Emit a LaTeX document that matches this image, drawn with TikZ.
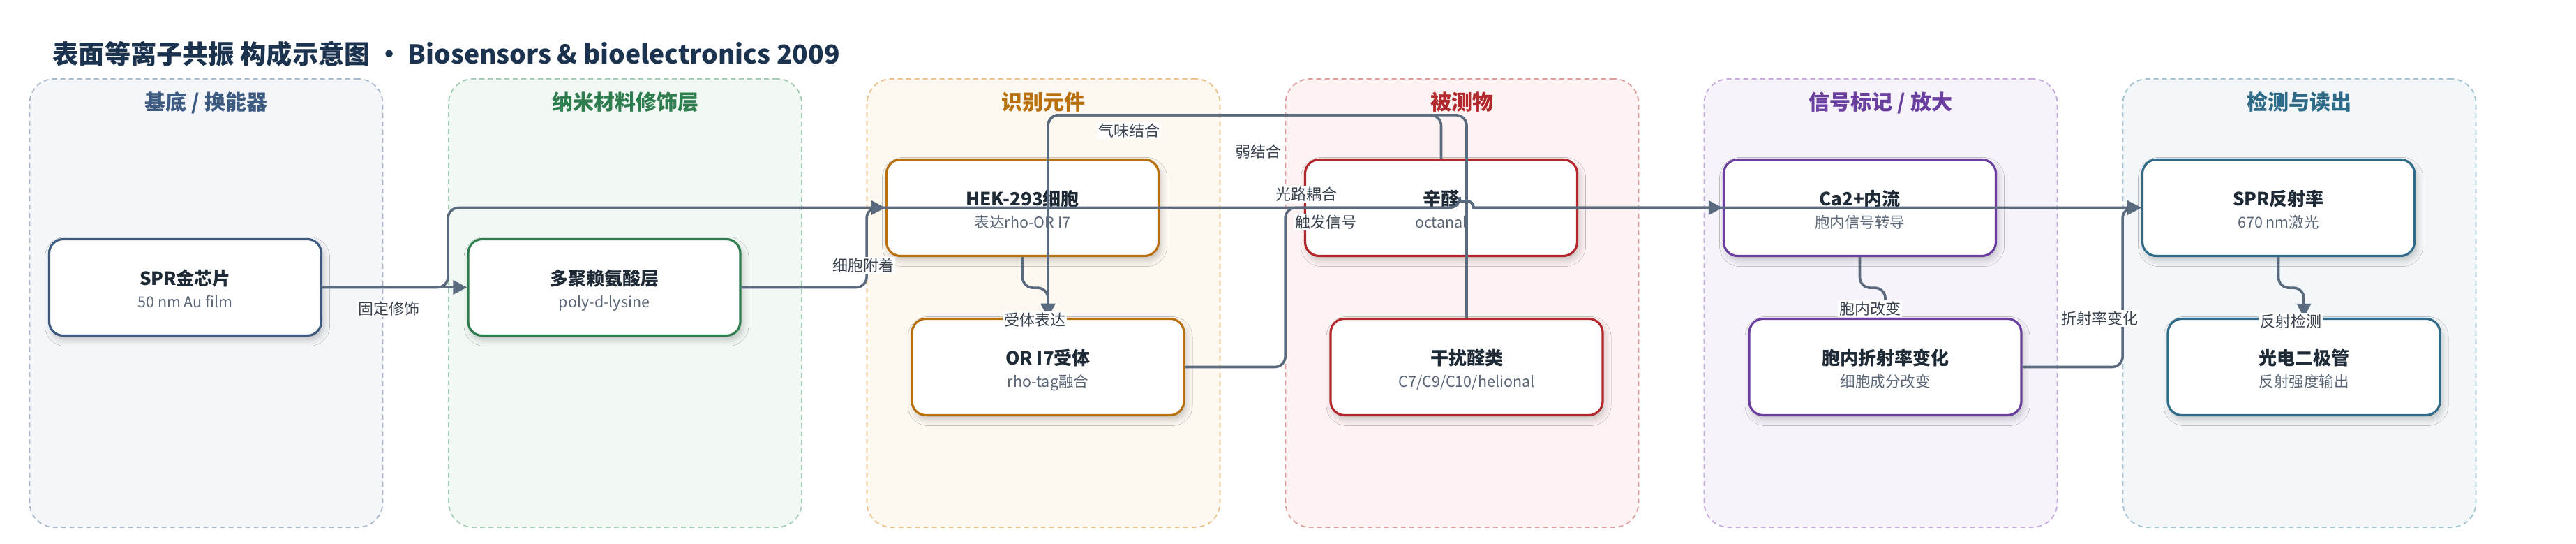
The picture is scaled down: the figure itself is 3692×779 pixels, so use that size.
\documentclass[tikz,border=0pt]{standalone}
\usepackage{fontspec}
\setmainfont{Noto Sans CJK SC}
\usetikzlibrary{arrows.meta,shadows.blur}

\definecolor{c1}{HTML}{3D5A80}
\definecolor{c1f}{HTML}{F4F6FA}
\definecolor{c1d}{HTML}{AAB8CC}
\definecolor{c2}{HTML}{2E7D4F}
\definecolor{c2f}{HTML}{F2F8F3}
\definecolor{c2d}{HTML}{A3CDB2}
\definecolor{c3}{HTML}{B8700D}
\definecolor{c3f}{HTML}{FDF8F0}
\definecolor{c3d}{HTML}{EBC08A}
\definecolor{c4}{HTML}{B3282D}
\definecolor{c4f}{HTML}{FDF3F3}
\definecolor{c4d}{HTML}{DE9C9C}
\definecolor{c5}{HTML}{6B3FA0}
\definecolor{c5f}{HTML}{F7F3FB}
\definecolor{c5d}{HTML}{C4AADE}
\definecolor{c6}{HTML}{2F6B88}
\definecolor{c6f}{HTML}{F3F7F9}
\definecolor{c6d}{HTML}{A2C3CF}
\definecolor{edgec}{HTML}{5A6A7F}
\definecolor{ttlc}{HTML}{1C3350}
\definecolor{boxt}{HTML}{1F2A37}
\definecolor{subc}{HTML}{5B6777}
\definecolor{lblc}{HTML}{3A4350}

\tikzset{
  lanest/.style={draw=#1d, fill=#1f, dash pattern=on 7pt off 5pt, line width=1.8pt,
    rounded corners=35pt, minimum width=506pt, minimum height=642pt, inner sep=0pt},
  lanet/.style={font=\fontsize{30}{36}\selectfont\bfseries, text=#1, inner sep=0pt, anchor=base},
  boxst/.style={draw=#1, fill=white, line width=3.2pt, rounded corners=20pt,
    minimum width=390pt, minimum height=138pt, inner sep=0pt,
    blur shadow={shadow xshift=3pt, shadow yshift=-6pt, shadow blur radius=9pt, shadow opacity=22}},
  ttlst/.style={font=\fontsize{26}{30}\selectfont\bfseries, text=boxt, inner sep=0pt, anchor=base},
  subst/.style={font=\fontsize{21.5}{26}\selectfont, text=subc, inner sep=0pt, anchor=base},
  lbl/.style={font=\fontsize{22}{26}\selectfont, text=lblc, fill=white, inner sep=2pt},
  conn/.style={draw=edgec, line width=3.6pt, rounded corners=15pt,
    -{Triangle[length=20pt,width=20pt]}},
}

\newcommand\mkbox[6]{%
  \node[boxst=#4] (#1) at (#2,#3) {};
  \node[ttlst] (#1t) at (#2,#3-3.5) {#5};
  \node[subst] (#1s) at (#2,#3+28.5) {#6};
}

\begin{document}
\begin{tikzpicture}[x=1pt,y=-1pt]
\useasboundingbox (0,0) rectangle (3692,779);
\fill[white] (0,0) rectangle (3692,779);

% title
\node[anchor=base west, inner sep=0pt, text=ttlc, font=\fontsize{37.2}{44}\selectfont\bfseries]
  (title) at (75.5,91.5) {表面等离子共振 构成示意图 · Biosensors \& bioelectronics 2009};

% lanes
\node[lanest=c1] (lane1) at (295.5,434) {};
\node[lanest=c2] (lane2) at (896,434) {};
\node[lanest=c3] (lane3) at (1495.5,434) {};
\node[lanest=c4] (lane4) at (2095.5,434) {};
\node[lanest=c5] (lane5) at (2695.5,434) {};
\node[lanest=c6] (lane6) at (3295.5,434) {};

\node[lanet=c1] (lane1t) at (295.5,157) {基底 / 换能器};
\node[lanet=c2] (lane2t) at (896,157) {纳米材料修饰层};
\node[lanet=c3] (lane3t) at (1495.5,157) {识别元件};
\node[lanet=c4] (lane4t) at (2095.5,157) {被测物};
\node[lanet=c5] (lane5t) at (2695.5,157) {信号标记 / 放大};
\node[lanet=c6] (lane6t) at (3295.5,157) {检测与读出};

% boxes
\mkbox{chip}{265.5}{411.5}{c1}{SPR金芯片}{50 nm Au film}
\mkbox{poly}{866}{411.5}{c2}{多聚赖氨酸层}{poly-d-lysine}
\mkbox{hek}{1465.5}{297.5}{c3}{HEK-293细胞}{表达rho-OR I7}
\mkbox{or}{1502}{525.5}{c3}{OR I7受体}{rho-tag融合}
\mkbox{oct}{2065.5}{297.5}{c4}{辛醛}{octanal}
\mkbox{int}{2102}{525.5}{c4}{干扰醛类}{C7/C9/C10/helional}
\mkbox{ca}{2665.5}{297.5}{c5}{Ca2+内流}{胞内信号转导}
\mkbox{cri}{2702}{525.5}{c5}{胞内折射率变化}{细胞成分改变}
\mkbox{sprr}{3265.5}{297.5}{c6}{SPR反射率}{670 nm激光}
\mkbox{pd}{3302}{525.5}{c6}{光电二极管}{反射强度输出}

\coordinate (hop) at (2092,297.5);

% connectors
\draw[conn] (chip.east) -- (poly.west);
\draw[conn] (chip.east) -- ++(180,0) |- (hop) [sharp corners] arc[start angle=180,end angle=0,radius=10pt] -- (sprr.west);
\draw[conn] (poly.east) -- ++(179.5,0) |- (hek.west);
\draw[conn] (hek.south) -- ++(0,44) -| (or.north);
\draw[conn] (oct.north) -- ++(0,-62) -| (or.north);
\draw[conn] (int.north) -- ++(0,-290) -| (or.north);
\draw[conn] (or.east) -- ++(143.5,0) |- (hop) [sharp corners] arc[start angle=180,end angle=0,radius=10pt] -- (ca.west);
\draw[conn] (ca.south) -- ++(0,44) -| (cri.north);
\draw[conn] (cri.east) -- ++(143.5,0) |- (sprr.west);
\draw[conn] (sprr.south) -- ++(0,44) -| (pd.north);

% labels
\node[lbl] (l1) at (557,442) {固定修饰};
\node[lbl] (l2) at (1237,380) {细胞附着};
\node[lbl] (l3) at (1483,458) {受体表达};
\node[lbl] (l4) at (1618,187) {气味结合};
\node[lbl] (l5) at (1803,217) {弱结合};
\node[lbl] (l6) at (1872,278) {光路耦合};
\node[lbl] (l7) at (1900,318) {触发信号};
\node[lbl] (l8) at (2680,442) {胞内改变};
\node[lbl] (l9) at (3009,456) {折射率变化};
\node[lbl] (l10) at (3283,460) {反射检测};
\end{tikzpicture}
\end{document}
